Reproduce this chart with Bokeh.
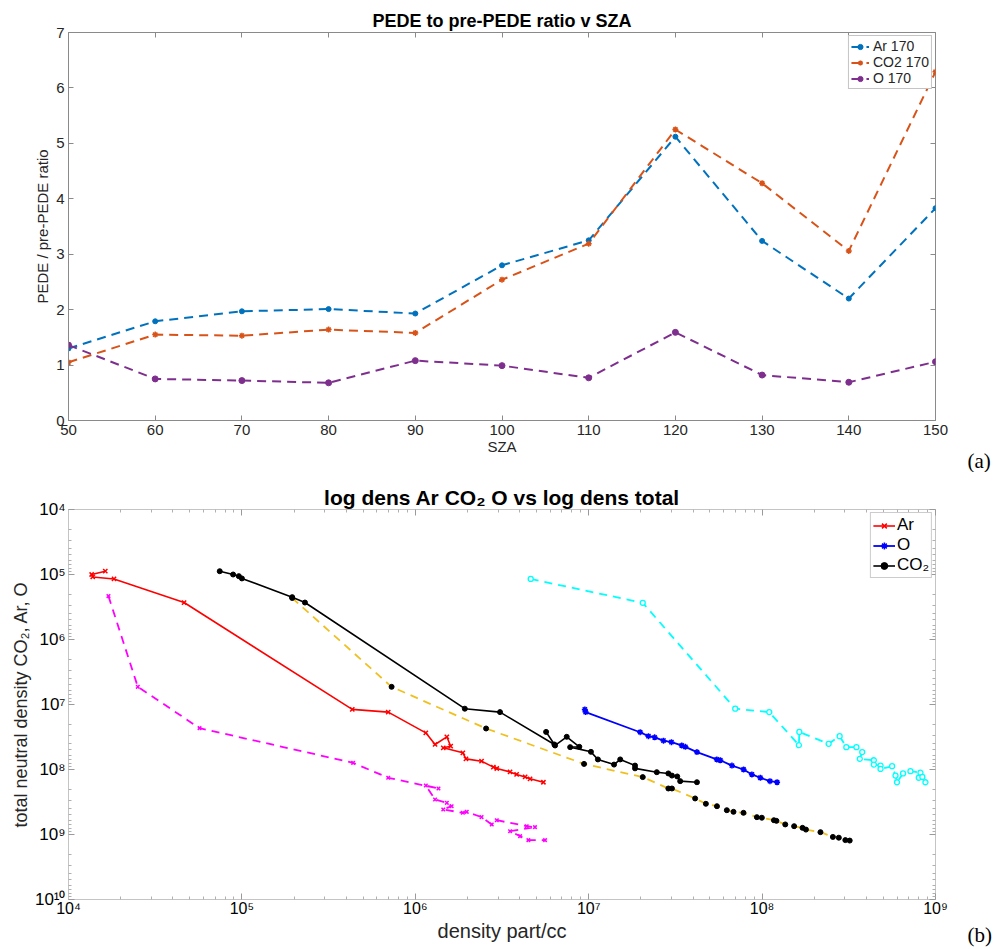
from bokeh.plotting import figure
from bokeh.layouts import column, row
from bokeh.models import (FixedTicker, LinearAxis, LogAxis, Range1d, Div,
                          CustomJSTickFormatter)
from bokeh.core.properties import value
from bokeh.embed import file_html
from bokeh.resources import INLINE

FONT = "Liberation Sans"
SERIF = "Liberation Serif"

# ---------------- panel (a) data ----------------
sza = [50, 60, 70, 80, 90, 100, 110, 120, 130, 140, 150]
ar_ratio = [1.30, 1.79, 1.97, 2.01, 1.93, 2.80, 3.25, 5.12, 3.24, 2.20, 3.83]
co2_ratio = [1.05, 1.55, 1.53, 1.64, 1.58, 2.54, 3.19, 5.25, 4.28, 3.06, 6.29]
o_ratio = [1.36, 0.75, 0.72, 0.68, 1.08, 0.99, 0.77, 1.59, 0.82, 0.69, 1.06]
y_ticks_a = [0, 1, 2, 3, 4, 5, 6, 7]

# ---------------- panel (b) data ----------------
ar_dens = [1.63e4, 1.36e4, 1.38e4, 1.83e4, 4.64e4, 4.33e5, 6.98e5, 1.15e6, 1.30e6,
           1.52e6, 1.60e6, 1.45e6, 1.88e6, 1.96e6, 2.41e6, 2.82e6, 2.95e6, 3.52e6,
           3.84e6, 4.30e6, 4.59e6, 5.48e6]
ar_total = [8.9e4, 1.0e5, 1.09e5, 1.17e5, 2.7e5, 1.19e7, 1.31e7, 2.73e7, 4.12e7,
            3.14e7, 4.38e7, 4.64e7, 5.54e7, 6.86e7, 7.45e7, 9.2e7, 9.66e7, 1.09e8,
            1.19e8, 1.30e8, 1.39e8, 1.57e8]

mag_dens = [1.70e4, 2.51e4, 5.70e4, 4.38e5, 6.98e5, 1.36e6, 1.15e6, 1.30e6, 1.52e6,
            1.62e6, 1.45e6, 1.88e6, 1.98e6, 2.41e6, 2.76e6, 2.95e6, 4.39e6, 4.90e6,
            3.52e6, 4.02e6, 4.49e6, 5.60e6]
mag_total = [2.15e5, 5.35e6, 2.31e7, 7.9e7, 1.34e8, 1.96e8, 1.76e8, 2.9e8, 3.26e8,
             3.67e8, 4.12e8, 4.64e8, 4.48e8, 5.4e8, 7.0e8, 6.03e8, 7.45e8, 7.7e8,
             8.9e8, 1.06e9, 1.22e9, 1.22e9]

co2_dens = [7.45e4, 8.9e4, 9.6e4, 1.0e5, 1.95e5, 2.31e5, 1.93e6, 3.08e6, 6.34e6,
            5.68e6, 6.4e6, 7.47e6, 8.83e6, 7.82e6, 1.03e7, 1.13e7, 1.40e7, 1.52e7,
            1.85e7, 1.85e7, 2.47e7, 2.88e7, 3.02e7, 3.24e7, 3.37e7, 4.21e7]
co2_total = [8.9e4, 1.0e5, 1.06e5, 1.15e5, 2.23e5, 2.7e5, 1.16e7, 1.31e7, 4.12e7,
             2.64e7, 4.27e7, 3.14e7, 4.48e7, 4.53e7, 5.35e7, 7.0e7, 8.4e7, 7.0e7,
             8.7e7, 9.6e7, 1.1e8, 1.15e8, 1.24e8, 1.28e8, 1.51e8, 1.57e8]

mod_dens = [1.95e5, 7.3e5, 2.56e6, 9.4e6, 2.05e7, 2.88e7, 3.02e7, 4.11e7, 4.74e7,
            5.49e7, 6.26e7, 6.84e7, 7.81e7, 9.33e7, 9.97e7, 1.17e8, 1.21e8, 1.36e8,
            1.53e8, 1.71e8, 1.79e8, 2.17e8, 2.56e8, 2.77e8, 3.02e8, 3.2e8]
mod_total = [2.3e5, 5.35e6, 2.34e7, 8.2e7, 1.31e8, 1.96e8, 1.96e8, 2.79e8, 3.37e8,
             3.67e8, 4.23e8, 4.48e8, 4.64e8, 5.41e8, 5.52e8, 6.03e8, 6.17e8, 7.0e8,
             7.45e8, 7.9e8, 8.4e8, 9.2e8, 1.09e9, 1.12e9, 1.22e9, 1.24e9]

o_dens = [9.5e6, 9.6e6, 1.98e7, 2.21e7, 2.4e7, 2.7e7, 3.0e7, 3.44e7, 3.61e7, 4.21e7,
          5.48e7, 5.74e7, 6.7e7, 7.82e7, 8.73e7, 9.77e7, 1.11e8, 1.22e8]
o_total = [1.19e7, 1.31e7, 2.67e7, 3.07e7, 3.2e7, 3.6e7, 3.8e7, 4.27e7, 4.48e7, 5.4e7,
           7.0e7, 7.2e7, 8.7e7, 1.0e8, 1.19e8, 1.34e8, 1.51e8, 1.57e8]

cy_dens = [4.63e6, 2.05e7, 7.0e7, 1.1e8, 1.63e8, 1.64e8, 2.42e8, 2.8e8, 3.06e8, 3.5e8,
           3.78e8, 3.66e8, 4.41e8, 4.41e8, 4.82e8, 4.82e8, 5.62e8, 5.88e8, 6.0e8,
           6.5e8, 7.17e8, 8.19e8, 8.01e8, 8.4e8, 8.75e8]
cy_total = [1.17e5, 2.73e5, 1.16e7, 1.31e7, 4.22e7, 2.64e7, 4.03e7, 3.07e7, 4.53e7,
            4.53e7, 5.4e7, 6.86e7, 7.2e7, 8.4e7, 8.7e7, 9.8e7, 8.9e7, 1.24e8, 1.57e8,
            1.15e8, 1.06e8, 1.12e8, 1.34e8, 1.3e8, 1.57e8]

log_major = [1e4, 1e5, 1e6, 1e7, 1e8, 1e9, 1e10]
log_minor = [m * d for d in [1e4, 1e5, 1e6, 1e7, 1e8, 1e9] for m in range(2, 10)]

panel_tags = ["(a)", "(b)"]

TXT = "#262626"
H1, H2 = 472, 475
MAIN_W, TAG_W = 965, 35

# =============== panel (a) ===============
p1 = figure(width=MAIN_W, height=H1, x_range=Range1d(50, 150), y_range=Range1d(0, 7),
            output_backend="svg", toolbar_location=None,
            min_border_left=68, min_border_right=30, min_border_top=32,
            min_border_bottom=52, title="PEDE to pre-PEDE ratio v SZA")
p1.title.text_font = FONT
p1.title.text_font_size = "18px"
p1.title.text_font_style = "bold"
p1.title.align = "center"
p1.title.text_color = "#000000"
p1.title.standoff = 4
p1.grid.visible = False
p1.outline_line_color = "#8a8a8a"
p1.background_fill_color = "white"

p1.xaxis.ticker = FixedTicker(ticks=sza)
p1.yaxis.ticker = FixedTicker(ticks=y_ticks_a)
for ax in [p1.xaxis[0], p1.yaxis[0]]:
    ax.major_label_text_font = FONT
    ax.major_label_text_font_size = "15px"
    ax.major_label_text_color = TXT
    ax.axis_label_text_font = FONT
    ax.axis_label_text_font_size = "15px"
    ax.axis_label_text_font_style = "normal"
    ax.axis_label_text_color = TXT
    ax.major_tick_in = 5
    ax.major_tick_out = 0
    ax.minor_tick_line_color = None
    ax.axis_line_color = "#8a8a8a"
    ax.major_tick_line_color = "#8a8a8a"
    ax.major_label_standoff = 4
    ax.axis_label_standoff = 0
p1.xaxis.axis_label = "SZA"
p1.yaxis.axis_label = "PEDE / pre-PEDE ratio"
p1.yaxis.axis_label_standoff = 2

for loc, tk in [("above", sza), ("right", y_ticks_a)]:
    ex = LinearAxis(ticker=FixedTicker(ticks=tk), major_label_text_font_size="1px",
                    major_label_text_alpha=0,
                    major_tick_in=5, major_tick_out=0, minor_tick_line_color=None,
                    axis_line_color=None, major_tick_line_color="#8a8a8a",
                    major_label_standoff=0)
    p1.add_layout(ex, loc)

C_AR, C_CO2, C_O = "#0072BD", "#D95319", "#7E2F8E"
p1.line(sza, ar_ratio, line_color=C_AR, line_width=2, line_dash="9 6", legend_label="Ar 170")
p1.scatter(sza, ar_ratio, marker="circle", size=5, line_color=C_AR, fill_color=C_AR,
           legend_label="Ar 170")
p1.line(sza, co2_ratio, line_color=C_CO2, line_width=2, line_dash="9 6", legend_label="CO2 170")
p1.scatter(sza, co2_ratio, marker="asterisk", size=6, line_color=C_CO2, line_width=1.5,
           legend_label="CO2 170")
p1.line(sza, o_ratio, line_color=C_O, line_width=2, line_dash="9 6", legend_label="O 170")
p1.scatter(sza, o_ratio, marker="circle", size=6, line_color=C_O, fill_color=C_O,
           legend_label="O 170")

lg = p1.legend[0]
lg.location = "top_right"
lg.margin = 3
lg.padding = 2
lg.spacing = 0
lg.label_text_font = FONT
lg.label_text_font_size = "14px"
lg.label_text_color = TXT
lg.label_height = 13
lg.glyph_height = 13
lg.glyph_width = 18
lg.label_standoff = 4
lg.border_line_color = "#8a8a8a"
lg.background_fill_alpha = 1


def tag_block(h, tag, y_from_bottom):
    f = figure(width=TAG_W, height=h, x_range=Range1d(0, TAG_W), y_range=Range1d(0, h),
               output_backend="svg", toolbar_location=None, min_border=0,
               x_axis_location=None, y_axis_location=None)
    try:
        f.frame_align = False
    except AttributeError:
        top = h - y_from_bottom - 12
        return Div(text=tag, width=TAG_W, height=h,
                   styles={"padding-top": f"{top}px", "padding-left": "2px",
                           "font-family": SERIF, "font-size": "21px", "color": "#000"})
    f.outline_line_color = None
    f.grid.visible = False
    f.text(x=[2], y=[y_from_bottom], text=[tag], text_font=value(SERIF),
           text_font_size="21px", text_baseline="middle", text_align="left",
           text_color="#000000")
    return f


pa = tag_block(H1, panel_tags[0], 12)

# =============== panel (b) ===============
p2 = figure(width=MAIN_W, height=H2, x_axis_type="log", y_axis_type="log",
            x_range=Range1d(1e4, 1e9), y_range=Range1d(1e10, 1e4),
            output_backend="svg", toolbar_location=None,
            min_border_left=68, min_border_right=30, min_border_top=37,
            min_border_bottom=48, title="log dens Ar CO\u2082 O vs log dens total")
p2.title.text_font = FONT
p2.title.text_font_size = "21px"
p2.title.text_font_style = "bold"
p2.title.align = "center"
p2.title.text_color = "#000000"
p2.title.standoff = 2
p2.grid.visible = False
p2.outline_line_color = "#c4c4c4"

sup_code = """
const sup = ["\u2070","\u00b9","\u00b2","\u00b3","\u2074","\u2075","\u2076","\u2077","\u2078","\u2079"];
const e = Math.round(Math.log10(tick));
return "10" + String(e).split("").map(c => sup[parseInt(c)]).join("");
"""
for ax in [p2.xaxis[0], p2.yaxis[0]]:
    ax.ticker = FixedTicker(ticks=log_major, minor_ticks=log_minor)
    ax.formatter = CustomJSTickFormatter(code=sup_code)
    ax.major_label_text_font = FONT
    ax.major_label_text_font_size = "17px"
    ax.major_label_text_color = "#000000"
    ax.axis_label_text_font = FONT
    ax.axis_label_text_font_style = "normal"
    ax.axis_label_text_color = TXT
    ax.major_tick_in = 6
    ax.major_tick_out = 0
    ax.minor_tick_in = 3
    ax.minor_tick_out = 0
    ax.axis_line_color = "#c4c4c4"
    ax.major_tick_line_color = "#9a9a9a"
    ax.minor_tick_line_color = "#b0b0b0"
    ax.major_label_standoff = 3
    ax.axis_label_standoff = 1
p2.xaxis.major_label_standoff = 0
p2.xaxis.major_label_text_font_size = "16px"
p2.xaxis.axis_label_standoff = 0
p2.xaxis.axis_label = "density part/cc"
p2.xaxis.axis_label_text_font_size = "20px"
p2.yaxis.axis_label = "total neutral density CO\u2082, Ar, O"
p2.yaxis.axis_label_text_font_size = "18px"

for loc in ["above", "right"]:
    ex = LogAxis(ticker=FixedTicker(ticks=log_major, minor_ticks=log_minor),
                 major_label_text_font_size="1px", major_label_text_alpha=0,
                 major_tick_in=6, major_tick_out=0,
                 minor_tick_in=3, minor_tick_out=0, axis_line_color=None,
                 major_tick_line_color="#9a9a9a", minor_tick_line_color="#b0b0b0",
                 major_label_standoff=0)
    p2.add_layout(ex, loc)

# no-legend series
p2.line(mag_dens, mag_total, line_color="#FF00FF", line_width=1.8, line_dash="8 6")
p2.scatter(mag_dens, mag_total, marker="x", size=5, line_color="#FF00FF", line_width=1.5)
p2.line(mod_dens, mod_total, line_color="#F0C020", line_width=1.8, line_dash="8 6")
p2.scatter(mod_dens, mod_total, marker="circle", size=5, line_color="black", fill_color="black")
p2.line(cy_dens, cy_total, line_color="#00FFFF", line_width=1.8, line_dash="8 6")
p2.scatter(cy_dens, cy_total, marker="circle", size=5, line_color="#00FFFF",
           fill_color="white", line_width=1.3)

# legend series
p2.line(ar_dens, ar_total, line_color="#FF0000", line_width=1.6, legend_label="Ar")
p2.scatter(ar_dens, ar_total, marker="x", size=6, line_color="#FF0000", line_width=1.5,
           legend_label="Ar")
p2.line(o_dens, o_total, line_color="#0000FF", line_width=1.8, legend_label="O")
p2.scatter(o_dens, o_total, marker="asterisk", size=6, line_color="#0000FF", line_width=1.5,
           legend_label="O")
p2.line(co2_dens, co2_total, line_color="#000000", line_width=1.6, legend_label="CO\u2082")
p2.scatter(co2_dens, co2_total, marker="circle", size=5, line_color="black",
           fill_color="black", legend_label="CO\u2082")

lg2 = p2.legend[0]
lg2.location = "top_right"
lg2.margin = 3
lg2.padding = 2
lg2.spacing = 0
lg2.label_text_font = FONT
lg2.label_text_font_size = "17px"
lg2.label_text_color = "#000000"
lg2.label_height = 17
lg2.glyph_height = 17
lg2.glyph_width = 22
lg2.label_standoff = 2
lg2.border_line_color = "#9a9a9a"

pb = tag_block(H2, panel_tags[1], 13)

layout = column(row(p1, pa, spacing=0), row(p2, pb, spacing=0), spacing=0)
open("out.html", "w").write(file_html(layout, INLINE))
